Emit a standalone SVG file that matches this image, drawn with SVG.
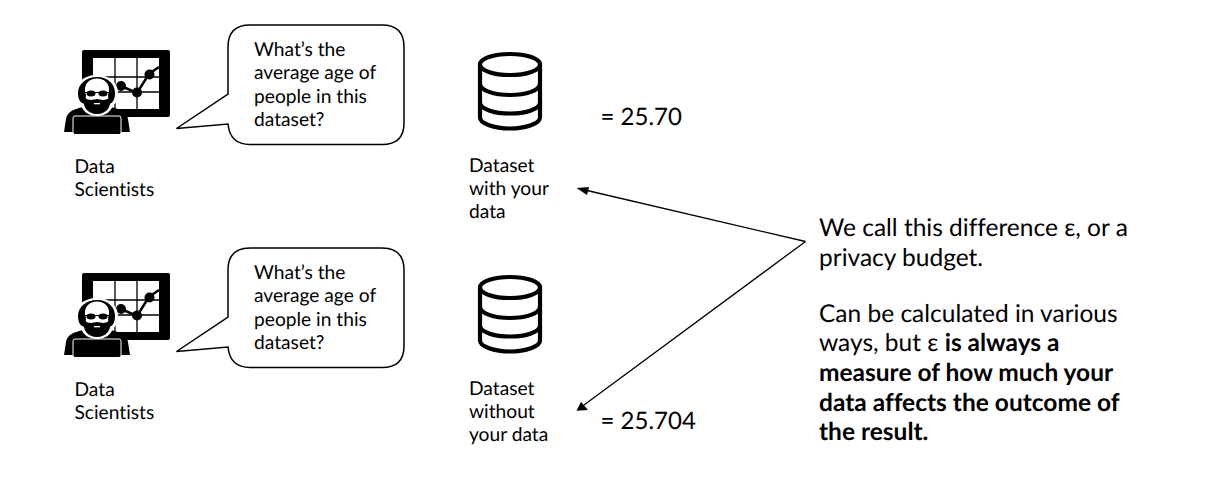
<svg xmlns="http://www.w3.org/2000/svg" width="1231" height="503" viewBox="0 0 1231 503">
<style>
text{font-family:Lato,"Liberation Sans",sans-serif;fill:#000;font-variant-ligatures:none;text-rendering:geometricPrecision}
.s{font-size:19.2px}
.m{font-size:24px}
.l{font-size:24.500px}
.b{font-weight:700}
.bubble{fill:#fff;stroke:#000;stroke-width:1.5}
.c{fill:none;stroke:#000;stroke-width:1.3}
.db{fill:none;stroke:#000;stroke-width:4.2}
</style>
<defs>
<g id="scientist">
<rect x="82" y="50" width="88" height="67" rx="2" fill="#000"/>
<rect x="93" y="58" width="66" height="51" fill="#fff"/>
<path d="M115 58V109M137 58V109M93 77H159M93 92H159" stroke="#000" stroke-width="1.300" fill="none"/>
<path d="M121 86L137 93L149 74L159 67" fill="none" stroke="#000" stroke-width="2.500"/>
<circle cx="121" cy="86" r="5" fill="#000"/><circle cx="137" cy="92.500" r="5" fill="#000"/><circle cx="149.500" cy="74.500" r="5" fill="#000"/>
<path d="M84 107C72 109 67 113 66 119L64 132H130L128 119C127 113 122 109 110 107L97 116Z" fill="#000"/>
<path d="M97 75C84 75 75 83 75 93C75 100 78 104 81 105C83 112 89 116 97 116C105 116 111 112 113 105C116 104 118 100 118 93C118 83 110 75 97 75Z" fill="#fff"/>
<path d="M97 77C86 77 78 84 78 93C78 99 80 103 85 104L86 95C84 90 85 85 88 82C90 80 93 78.500 97 78.500C101 78.500 104 80 106 82C109 85 110 90 108 95L109 104C113 103 115 99 115 93C115 84 108 77 97 77Z" fill="#000"/>
<path d="M84 97C86 99 88 100 91 100C93 100 95 99 97 99C99 99 101 100 103 100C106 100 108 99 110 97C112 106 107 114 97 114C87 114 82 106 84 97Z" fill="#000"/>
<rect x="94" y="103" width="6" height="1.300" fill="#fff"/>
<ellipse cx="91" cy="93.500" rx="4.500" ry="3" fill="#000"/><ellipse cx="103" cy="93.500" rx="4.500" ry="3" fill="#000"/>
<path d="M85 92.500H109" stroke="#000" stroke-width="1" fill="none"/>
<rect x="73" y="116" width="48" height="18.500" rx="2" fill="#000" stroke="#fff" stroke-width="1"/>
</g>
<g id="cyl">
<ellipse cx="510" cy="64.500" rx="30" ry="10.500" class="db"/>
<path d="M480 64.500V117.500C480 123.500 494 128.500 510 128.500S540 123.500 540 117.500V64.500M480 83.500C480 90.500 494 95 510 95S540 90.500 540 83.500M480 102.500C480 109 494 113.500 510 113.500S540 109 540 102.500" class="db"/>
</g>
<path id="bub" d="M250 25H382Q404 25 404 47V123Q404 144.500 382 144.500H250Q230 144.500 228 124L176.500 128.500L228 94V47Q228 25 250 25Z" class="bubble"/>
</defs>
<g id="connectors">
<path class="c" d="M805.500 241.500L585 190"/>
<path class="c" d="M805.500 241.500L584 405"/>
<path d="M576.500 188L589 187L587 195Z" fill="#000"/>
<path d="M576.500 410.700L581 401.700L588 410Z" fill="#000"/>
</g>
<g id="scientist-top"><use href="#scientist"/><text class="s" x="74.500" y="172.500">Data</text><text class="s" x="74.500" y="195.500">Scientists</text></g>
<g id="bubble-top"><use href="#bub"/><text class="s" x="254" y="55.500">What’s the</text><text class="s" x="254" y="79">average age of</text><text class="s" x="254" y="102.500">people in this</text><text class="s" x="254" y="125.500">dataset?</text></g>
<g id="dataset-top"><use href="#cyl"/><text class="s" x="469" y="171.500">Dataset</text><text class="s" x="469" y="195">with your</text><text class="s" x="469" y="217.500">data</text></g>
<g id="value-top"><text class="m" x="600.500" y="124.500">= 25.70</text></g>
<g id="scientist-bottom" transform="translate(0 223)"><use href="#scientist"/><text class="s" x="74.500" y="172.500">Data</text><text class="s" x="74.500" y="195.500">Scientists</text></g>
<g id="bubble-bottom" transform="translate(0 223)"><use href="#bub"/><text class="s" x="254" y="55.500">What’s the</text><text class="s" x="254" y="79">average age of</text><text class="s" x="254" y="102.500">people in this</text><text class="s" x="254" y="125.500">dataset?</text></g>
<g id="dataset-bottom" transform="translate(0 223)"><use href="#cyl"/><text class="s" x="469" y="171.500">Dataset</text><text class="s" x="469" y="195">without</text><text class="s" x="469" y="217.500">your data</text></g>
<g id="value-bottom"><text class="m" x="600.500" y="428.500">= 25.704</text></g>
<g id="note">
<text class="l" x="819" y="235.500">We call this difference ε, or a</text>
<text class="l" x="819" y="265.500">privacy budget.</text>
<text class="l" x="819" y="321.500">Can be calculated in various</text>
<text class="l" x="819" y="350.500">ways, but ε <tspan class="b">is always a</tspan></text>
<text class="l b" x="819" y="380.500">measure of how much your</text>
<text class="l b" x="819" y="410.500">data affects the outcome of</text>
<text class="l b" x="819" y="439.500">the result.</text>
</g>
</svg>
